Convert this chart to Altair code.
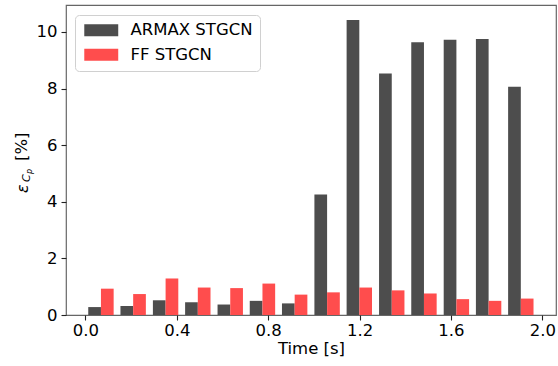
import altair as alt
import pandas as pd

# Time stamps of each group (centre between the two bars) and the errors per model
times = [0.068, 0.209, 0.351, 0.492, 0.634, 0.775, 0.916,
         1.058, 1.199, 1.341, 1.482, 1.624, 1.765, 1.906]
armax_err = [0.28, 0.32, 0.52, 0.45, 0.37, 0.50, 0.41,
             4.26, 10.42, 8.53, 9.63, 9.72, 9.75, 8.06]
ff_err = [0.93, 0.74, 1.29, 0.97, 0.95, 1.11, 0.72,
          0.80, 0.97, 0.87, 0.76, 0.56, 0.50, 0.58]
series = ["ARMAX STGCN", "FF STGCN"]
colors = ["#4d4d4d", "#ff4d4d"]
x_ticks = [0.0, 0.4, 0.8, 1.2, 1.6, 2.0]
y_ticks = [0, 2, 4, 6, 8, 10]

BAR_W = 0.0556
FONT = "DejaVu Sans"
FS = 16.5

rows = []
for t, a, f in zip(times, armax_err, ff_err):
    rows.append({"series": series[0], "x0": t - BAR_W, "x1": t, "err": a})
    rows.append({"series": series[1], "x0": t, "x1": t + BAR_W, "err": f})
df = pd.DataFrame(rows)

bars = alt.Chart(df).mark_bar(opacity=1).encode(
    x=alt.X("x0:Q",
            scale=alt.Scale(domain=[-0.085, 2.06], nice=False, zero=False),
            axis=alt.Axis(values=x_ticks, format=".1f", title="Time [s]",
                          grid=False, domain=False, tickSize=5,
                          tickColor="#222", tickWidth=1.1,
                          labelPadding=2, titlePadding=2)),
    x2="x1:Q",
    y=alt.Y("err:Q",
            scale=alt.Scale(domain=[0, 10.95], nice=False),
            axis=alt.Axis(values=y_ticks, format="d", title=None,
                          grid=False, domain=False, tickSize=5,
                          tickColor="#222", tickWidth=1.1, labelPadding=4)),
    y2=alt.datum(0),
    color=alt.Color("series:N",
                    scale=alt.Scale(domain=series, range=colors),
                    legend=alt.Legend(
                        title=None, orient="none", legendX=9, legendY=10,
                        direction="vertical", fillColor="white",
                        strokeColor="#d0d0d0", cornerRadius=4, padding=7,
                        labelFont=FONT, labelFontSize=FS, labelColor="black",
                        symbolType="M-2.83,-1L2.83,-1L2.83,1L-2.83,1Z",
                        symbolSize=144, symbolStrokeWidth=0, symbolOpacity=1,
                        symbolOffset=11, labelOffset=21, rowPadding=7.5)),
)

# y-axis title ε_{C_p} [%], built from pieces so the subscripts can shrink
def ytext(txt, px, py, size, italic=True):
    return alt.Chart(pd.DataFrame({"t": [txt]})).mark_text(
        angle=270, align="left", baseline="alphabetic", font=FONT,
        fontSize=size, fontStyle="italic" if italic else "normal",
        color="black",
    ).encode(text="t:N", x=alt.value(px), y=alt.value(py))

title_parts = [
    ytext("ε", -38, 188, 16),
    ytext("C", -36, 177, 11),
    ytext("p", -34, 169, 8),
    ytext("[%]", -39, 156, FS, italic=False),
]

chart = alt.layer(bars, *title_parts).properties(
    width=490, height=310,
    autosize=alt.AutoSizeParams(type="none"),
    padding={"left": 66, "top": 5, "right": 2, "bottom": 51},
).configure_view(
    stroke="#666", strokeWidth=1.2
).configure_axis(
    labelFont=FONT, labelFontSize=FS, labelColor="black",
    titleFont=FONT, titleFontSize=FS, titleColor="black",
    titleFontWeight="normal",
)

chart.save("out.html", embed_options={"renderer": "svg", "actions": False})
